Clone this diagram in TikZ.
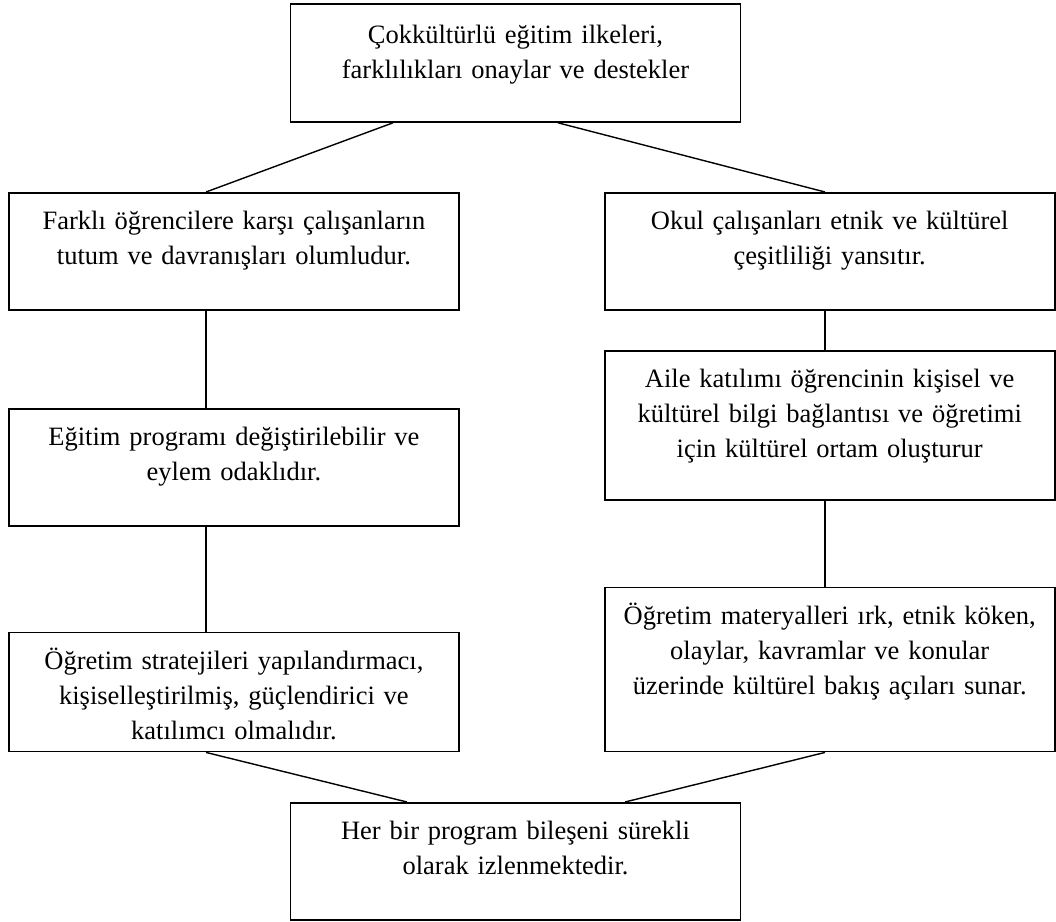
\documentclass[tikz,border=0pt]{standalone}
\usepackage{fontspec}
\setmainfont{Liberation Serif}
\usetikzlibrary{positioning}
\tikzset{
  kutu/.style={draw=black,line width=1.8pt,rectangle,inner sep=0pt,
    text width=450pt,align=center,text height=37pt,text depth=#1,
    font=\fontsize{26.5}{35}\selectfont},
  bag/.style={line width=1.4pt},
}
\begin{document}
\begin{tikzpicture}[x=1pt,y=-1pt]
  \useasboundingbox (0,0) rectangle (1056,921);
  % attachment columns
  \coordinate (lx) at (206,0);
  \coordinate (rx) at (825,0);
  \coordinate (tl) at (393,0);
  \coordinate (tr) at (558,0);
  \coordinate (bl) at (407,0);
  \coordinate (br) at (625,0);

  \node[kutu=78pt,text height=40pt,anchor=north] (cok) at (515.5,3)
    {Çokkültürlü eğitim ilkeleri,\\farklılıkları onaylar ve destekler};
  \node[kutu=80pt,anchor=north west] (tutum) at (8,192)
    {Farklı öğrencilere karşı çalışanların\\tutum ve davranışları olumludur.};
  \node[kutu=80pt,right=144pt of tutum] (okul)
    {Okul çalışanları etnik ve kültürel\\çeşitliliği yansıtır.};
  \node[kutu=80pt,below=97pt of tutum] (egitim)
    {Eğitim programı değiştirilebilir ve\\eylem odaklıdır.};
  \node[kutu=82pt,below=105pt of egitim] (strateji)
    {Öğretim stratejileri yapılandırmacı,\\kişiselleştirilmiş, güçlendirici ve\\katılımcı olmalıdır.};
  \node[kutu=112pt,below=39pt of okul] (aile)
    {Aile katılımı öğrencinin kişisel ve\\kültürel bilgi bağlantısı ve öğretimi\\için kültürel ortam oluşturur};
  \node[kutu=127pt,below=86pt of aile] (materyal)
    {Öğretim materyalleri ırk, etnik köken,\\olaylar, kavramlar ve konular\\üzerinde kültürel bakış açıları sunar.};
  \node[kutu=80pt,anchor=north] (izlem) at (515.5,802)
    {Her bir program bileşeni sürekli\\olarak izlenmektedir.};

  \draw[bag] (cok.south -| tl) -- (tutum.north -| lx);
  \draw[bag] (cok.south -| tr) -- (okul.north -| rx);
  \draw[bag] (tutum.south -| lx) -- (egitim.north -| lx);
  \draw[bag] (egitim.south -| lx) -- (strateji.north -| lx);
  \draw[bag] (okul.south -| rx) -- (aile.north -| rx);
  \draw[bag] (aile.south -| rx) -- (materyal.north -| rx);
  \draw[bag] (strateji.south -| lx) -- (izlem.north -| bl);
  \draw[bag] (materyal.south -| rx) -- (izlem.north -| br);
\end{tikzpicture}
\end{document}
